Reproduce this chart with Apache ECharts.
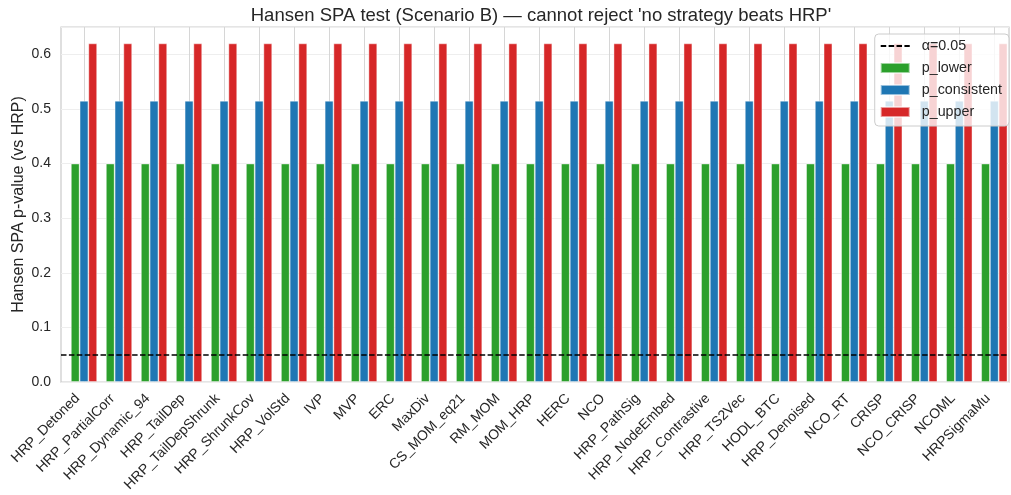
<!DOCTYPE html>
<html>
<head>
<meta charset="utf-8">
<script src="https://cdn.jsdelivr.net/npm/echarts@6/dist/echarts.min.js"></script>
<style>
    html, body { margin: 0; padding: 0; background: #fff; }
    #chart { width: 1011px; height: 495px; }
</style>
</head>
<body>
<div id="chart"></div>
<script>
// strategies on the x axis
const categories = [
    "HRP_Detoned", "HRP_PartialCorr", "HRP_Dynamic_94", "HRP_TailDep", "HRP_TailDepShrunk",
    "HRP_ShrunkCov", "HRP_VolStd", "IVP", "MVP", "ERC", "MaxDiv", "CS_MOM_eq21", "RM_MOM",
    "MOM_HRP", "HERC", "NCO", "HRP_PathSig", "HRP_NodeEmbed", "HRP_Contrastive", "HRP_TS2Vec",
    "HODL_BTC", "HRP_Denoised", "NCO_RT", "CRISP", "NCO_CRISP", "NCOML", "HRPSigmaMu"
];
const pLower = [
    0.40, 0.40, 0.40, 0.40, 0.40, 0.40, 0.40, 0.40, 0.40, 0.40, 0.40, 0.40, 0.40, 0.40,
    0.40, 0.40, 0.40, 0.40, 0.40, 0.40, 0.40, 0.40, 0.40, 0.40, 0.40, 0.40, 0.40
];
const pConsistent = [
    0.515, 0.515, 0.515, 0.515, 0.515, 0.515, 0.515, 0.515, 0.515, 0.515, 0.515, 0.515, 0.515, 0.515,
    0.515, 0.515, 0.515, 0.515, 0.515, 0.515, 0.515, 0.515, 0.515, 0.515, 0.515, 0.515, 0.515
];
const pUpper = [
    0.62, 0.62, 0.62, 0.62, 0.62, 0.62, 0.62, 0.62, 0.62, 0.62, 0.62, 0.62, 0.62, 0.62,
    0.62, 0.62, 0.62, 0.62, 0.62, 0.62, 0.62, 0.62, 0.62, 0.62, 0.62, 0.62, 0.62
];
const alpha = 0.05;
const yTicks = [0.0, 0.1, 0.2, 0.3, 0.4, 0.5, 0.6];

const textColor = "#262626";
const font = "Liberation Sans, Arial, sans-serif";
const dash = [5.5, 2.4];

function barSeries(name, data, color) {
    return {
        name: name,
        type: 'bar',
        data: data,
        xAxisIndex: 1,
        yAxisIndex: 1,
        barGap: '0%',
        barCategoryGap: '25%',
        clip: false,
        itemStyle: {
            color: color,
            borderColor: 'rgba(255,255,255,0.55)',
            borderWidth: 0.8
        }
    };
}

let option = {
    animation: false,
    backgroundColor: '#ffffff',
    textStyle: { fontFamily: font, color: textColor },
    title: {
        text: "Hansen SPA test (Scenario B) \u2014 cannot reject 'no strategy beats HRP'",
        left: 536,
        textAlign: 'center',
        top: 1,
        textStyle: { fontFamily: font, fontSize: 18.5, fontWeight: 'normal', color: textColor }
    },
    legend: {
        orient: 'vertical',
        right: 2,
        top: 34,
        padding: [1, 7, 3, 5],
        itemWidth: 29,
        itemHeight: 10,
        itemGap: 0,
        itemTextGap: 5,
        backgroundColor: 'rgba(255,255,255,0.8)',
        borderColor: '#cccccc',
        borderWidth: 1,
        borderRadius: 4,
        textStyle: {
            fontFamily: font, fontSize: 14.3, color: textColor, lineHeight: 22,
            padding: [0, 0, 0, 7]
        },
        data: [
            { name: 'α=0.05', itemStyle: { opacity: 0 } },
            { name: 'p_lower', icon: 'rect' },
            { name: 'p_consistent', icon: 'rect' },
            { name: 'p_upper', icon: 'rect' }
        ]
    },
    grid: [
        {   // axes frame, y ticks and horizontal grid
            left: 61, right: 2, top: 27, bottom: 113,
            show: true,
            borderColor: '#cccccc',
            borderWidth: 1.25,
            outerBoundsMode: 'none'
        },
        {   // category positions for the bars
            left: 84, right: 16.7, top: 27, bottom: 113,
            show: false,
            outerBoundsMode: 'none'
        }
    ],
    xAxis: [
        {
            type: 'value', gridIndex: 0, min: 0, max: 1,
            axisLine: { show: false }, axisTick: { show: false },
            axisLabel: { show: false }, splitLine: { show: false }
        },
        {
            type: 'category', gridIndex: 1, data: categories, boundaryGap: false,
            axisLine: { show: false }, axisTick: { show: false },
            axisLabel: {
                interval: 0, rotate: 45, margin: 8,
                padding: [0, 9, 0, 0],
                fontFamily: font, fontSize: 14, color: textColor
            },
            splitLine: { show: true, interval: 0, lineStyle: { color: '#d6d6d6', width: 1 } }
        }
    ],
    yAxis: [
        {
            type: 'value', gridIndex: 0, min: 0, max: 0.65, interval: 0.1,
            name: 'Hansen SPA p-value (vs HRP)',
            nameLocation: 'middle',
            nameGap: 34,
            nameMoveOverlap: false,
            nameTextStyle: { fontFamily: font, fontSize: 16, color: textColor },
            axisLine: { show: false }, axisTick: { show: false },
            axisLabel: {
                margin: 10, fontFamily: font, fontSize: 14, color: textColor,
                showMaxLabel: false,
                formatter: v => yTicks.some(t => Math.abs(t - v) < 1e-9) ? v.toFixed(1) : ''
            },
            splitLine: { show: true, lineStyle: { color: '#eeeeee', width: 1 } }
        },
        {
            type: 'value', gridIndex: 1, min: 0, max: 0.65,
            show: false, splitLine: { show: false }
        }
    ],
    series: [
        barSeries('p_lower', pLower, '#2ca02c'),
        barSeries('p_consistent', pConsistent, '#1f77b4'),
        barSeries('p_upper', pUpper, '#d62728'),
        {
            name: 'α=0.05',
            type: 'line',
            xAxisIndex: 0,
            yAxisIndex: 0,
            data: [],
            symbol: 'none',
            color: '#000000',
            lineStyle: { color: '#000000', type: dash, width: 1.5 },
            z: 5,
            markLine: {
                silent: true,
                symbol: ['none', 'none'],
                label: { show: false },
                lineStyle: { color: '#000000', type: dash, width: 1.5 },
                data: [{ yAxis: alpha }]
            }
        }
    ]
};

echarts.init(document.getElementById('chart'), null, { renderer: 'canvas' }).setOption(option);
</script>
</body>
</html>
